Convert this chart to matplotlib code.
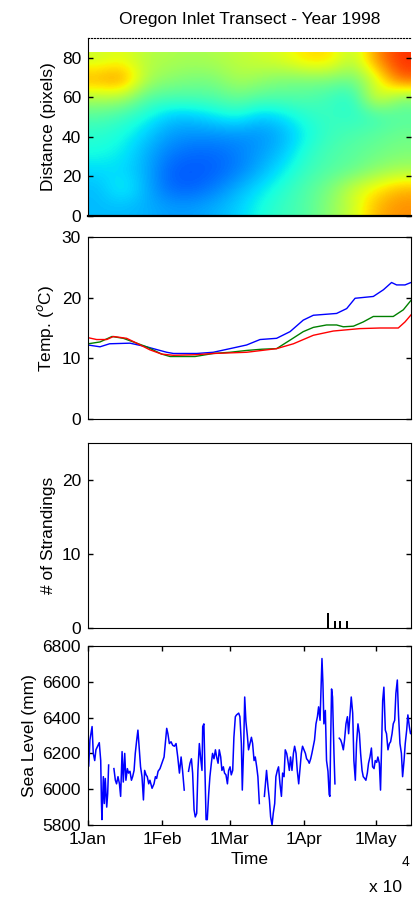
import numpy as np
import matplotlib
matplotlib.use('Agg')
import matplotlib.pyplot as plt

plt.rcParams['font.family'] = ['Liberation Sans Narrow', 'Liberation Sans', 'DejaVu Sans']
plt.rcParams['font.size'] = 12.5

# x axis: days since 1 Jan 1998
xmax = 134.6
month_days = [0, 31, 59, 90, 120]
month_labels = ['1Jan', '1Feb', '1Mar', '1Apr', '1May']

# transect image (rows from top = far distance, to bottom = 0)
transect = np.array([
    [0.60, 0.63, 0.57, 0.56, 0.55, 0.56, 0.58, 0.60, 0.62, 0.68, 0.68, 0.56, 0.76, 0.86],
    [0.74, 0.78, 0.56, 0.52, 0.50, 0.50, 0.56, 0.53, 0.50, 0.50, 0.50, 0.48, 0.60, 0.82],
    [0.56, 0.56, 0.45, 0.44, 0.44, 0.45, 0.48, 0.45, 0.45, 0.45, 0.42, 0.38, 0.65, 0.50],
    [0.45, 0.42, 0.38, 0.32, 0.32, 0.35, 0.38, 0.32, 0.35, 0.40, 0.42, 0.40, 0.42, 0.45],
    [0.40, 0.38, 0.33, 0.28, 0.27, 0.27, 0.27, 0.27, 0.30, 0.37, 0.42, 0.44, 0.46, 0.48],
    [0.38, 0.36, 0.30, 0.25, 0.23, 0.23, 0.25, 0.28, 0.32, 0.40, 0.44, 0.46, 0.48, 0.50],
    [0.34, 0.34, 0.30, 0.22, 0.21, 0.22, 0.25, 0.30, 0.36, 0.42, 0.45, 0.47, 0.52, 0.55],
    [0.31, 0.38, 0.30, 0.23, 0.22, 0.25, 0.30, 0.35, 0.40, 0.45, 0.50, 0.60, 0.66, 0.72],
    [0.31, 0.31, 0.30, 0.28, 0.28, 0.30, 0.33, 0.38, 0.42, 0.45, 0.52, 0.60, 0.72, 0.76],
])
transect_top = 82.5

# temperatures
t_blue_day = [0, 5, 9, 17.5, 24.4, 32.8, 35.6, 45.3, 52.2, 59.2, 66.1, 71.7, 78.6, 84.2, 89.7,
              93.9, 103.6, 107.8, 111.3, 118.9, 123.1, 126.5, 128.6, 132.1, 134.6]
t_blue = [12.2, 11.9, 12.4, 12.5, 11.9, 11.0, 10.8, 10.8, 11.0, 11.6, 12.2, 13.1, 13.3, 14.4, 16.3,
          17.1, 17.4, 18.2, 19.9, 20.2, 21.3, 22.5, 22.1, 22.1, 22.5]
t_green_day = [0.1, 5, 10, 14.7, 18.9, 24.4, 30.7, 34.2, 44.6, 52.2, 59.2, 66.1, 72.4, 78.6, 84.2,
               89.7, 93.9, 99.4, 103.6, 106.4, 110.6, 114.7, 118.9, 127.2, 131.4, 134.9]
t_green = [12.4, 12.7, 13.6, 13.3, 12.7, 11.9, 10.7, 10.3, 10.3, 10.8, 11.0, 11.3, 11.5, 11.6, 13.0,
           14.4, 15.1, 15.5, 15.5, 15.2, 15.3, 16.0, 16.9, 16.9, 18.0, 19.7]
t_red_day = [0.1, 3.6, 7.8, 10.6, 16.1, 20.3, 25.8, 30.7, 35.6, 45.3, 52.2, 59.2, 66.1, 72.4, 78.6,
             85.6, 93.9, 102.2, 113.3, 121.7, 129.3, 132.1, 134.9]
t_red = [13.4, 13.1, 13.1, 13.6, 13.3, 12.5, 11.4, 10.7, 10.5, 10.6, 10.8, 10.9, 11.0, 11.3, 11.6,
         12.4, 13.8, 14.5, 14.9, 15.0, 15.0, 16.0, 17.3]

# strandings
strand_day = [100, 103, 105, 108]
strand_n = [2, 1, 1, 1]

# sea level (nan = gap in record)
sl_day = [0.3, 0.8, 1.7, 2.2, 2.8, 3.3, 4.0, 4.7, 5.3, 5.6, 5.8, 6.4, 6.8, 7.2, 7.8, 8.2, 8.6,
          9.5,
          10.8, 11.4, 11.9, 12.5, 13.1, 13.6, 14.2, 14.7, 15.3, 15.8, 16.4, 16.9, 17.5, 18.1, 18.6,
          19.2, 19.7, 20.3, 20.8, 21.4, 21.9, 22.5, 23.1, 23.6, 24.2, 24.7, 25.3, 25.8, 26.7, 27.5,
          28.1, 28.6, 29.2, 30.0, 30.8, 31.7, 32.2, 32.8, 33.3, 33.9, 34.6, 35.3, 36.0, 36.7, 37.4,
          38.1, 38.8, 39.4, 40.1,
          41.0,
          41.9, 42.5, 43.1, 43.6, 44.2, 44.7, 45.3, 45.8, 46.4, 46.9, 47.5, 47.8, 48.3, 48.8, 49.2,
          49.7, 50.3, 50.8, 51.4, 51.9, 52.5, 53.1, 53.6, 54.2, 54.7, 55.3, 55.8, 56.4, 56.9, 57.5,
          58.1, 58.6, 59.2, 59.7, 60.3, 60.8, 61.4, 61.9, 62.8, 63.3, 63.9, 64.3, 64.9, 65.3, 65.8,
          66.4, 66.9, 67.5, 68.1, 68.6, 69.2, 69.7, 70.3, 70.8, 71.4,
          72.5,
          73.5, 73.9, 74.4, 75.0, 75.6, 76.1, 76.7, 77.2, 77.8, 78.3, 78.9, 79.4, 80.0, 80.6, 81.1,
          81.7, 82.2, 82.8, 83.3, 83.9, 84.4, 85.0, 85.6, 86.1, 86.7, 87.2, 87.8, 88.3, 88.9, 89.4,
          90.0, 90.6, 91.1, 91.7, 92.2, 92.8, 93.3, 93.9, 94.4, 95.0, 95.6, 96.1, 96.7, 97.2, 97.5,
          97.9, 98.3, 98.9, 99.4, 100.0, 100.5, 100.8, 101.1, 101.5, 101.9, 102.5, 102.9,
          103.8,
          104.7, 105.3, 105.8, 106.4, 106.9, 107.5, 108.1, 108.6, 109.2, 109.7, 110.3, 110.8, 111.4,
          111.9, 112.5, 113.1, 113.6, 114.2, 114.7, 115.3, 115.8, 116.4, 116.9, 117.5, 118.1, 118.6,
          119.2, 119.7, 120.3, 120.8, 121.4, 121.9, 122.2, 122.8, 123.3, 123.9, 124.4, 125.0, 125.6,
          126.1, 126.7, 127.2, 127.8, 128.3, 128.9, 129.4, 130.0, 130.6, 131.1, 131.7, 132.2, 132.8,
          133.3, 133.9, 134.4, 135.0]
sl_mm = [6130, 6275, 6350, 6200, 6160, 6220, 6240, 6260, 6160, 5930, 5830, 6070, 5920, 6060, 5900,
         5975, 6135,
         np.nan,
         6115, 6050, 6030, 6070, 6030, 5960, 6210, 6040, 6200, 6050, 6115, 6090, 6100, 6050, 6070,
         6105, 6200, 6275, 6330, 6220, 6125, 6070, 5940, 6105, 6080, 6070, 6030, 6050, 6005, 6030,
         6070, 6060, 6100, 6115, 6145, 6180, 6255, 6340, 6310, 6255, 6265, 6245, 6240, 6255, 6180,
         6090, 6180, 6105, 5995,
         np.nan,
         6100, 6145, 6170, 6090, 5885, 5845, 5865, 6105, 6255, 6180, 6105, 6350, 6365, 6070, 5830,
         5830, 5975, 6070, 6145, 6200, 6170, 6220, 6180, 6145, 6220, 6180, 6105, 6125, 6090, 6080,
         6030, 6105, 6125, 6080, 6105, 6290, 6405, 6415, 6425, 6405, 6255, 5995, 6255, 6515, 6380,
         6300, 6220, 6255, 6290, 6255, 6160, 6180, 6125, 6070, 5920,
         np.nan,
         5960, 6025, 6105, 6015, 5940, 5845, 5800, 5865, 5920, 6070, 6105, 6125, 6030, 5960, 6090,
         6070, 6220, 6200, 6160, 6105, 6180, 6105, 6200, 6240, 6200, 6105, 6030, 6105, 6200, 6240,
         6220, 6200, 6170, 6160, 6145, 6170, 6200, 6240, 6275, 6365, 6405, 6460, 6385, 6590, 6730,
         6590, 6365, 6440, 6160, 6100, 5970, 5960, 6255, 6560, 6515, 6200, 6030,
         np.nan,
         6285, 6275, 6255, 6220, 6275, 6365, 6405, 6310, 6425, 6515, 6425, 6160, 6050,
         6255, 6365, 6310, 6200, 6105, 6070, 6060, 6050, 6090, 6145, 6180, 6230, 6125,
         6115, 6160, 6150, 6180, 6145, 5995, 6160, 6495, 6570, 6330, 6310, 6220, 6255,
         6265, 6310, 6365, 6385, 6535, 6610, 6415, 6255, 6200, 6070, 6160, 6255, 6330,
         6415, 6350, 6310, 6330]

fig = plt.figure(figsize=(4.14, 9.01), dpi=100)
W, H = 414.0, 901.0
left = 88 / W
width = 323 / W


def make_ax(top_px, bot_px):
    return fig.add_axes([left, 1 - bot_px / H, width, (bot_px - top_px) / H])


# panel 1 - transect
ax1 = make_ax(38, 216)
ax1.imshow(transect, cmap='jet', vmin=0, vmax=1, aspect='auto', interpolation='bicubic',
           extent=[0, xmax, 0, transect_top], origin='upper')
ax1.set_xlim(0, xmax)
ax1.set_ylim(0, 90)
ax1.set_yticks([0, 20, 40, 60, 80])
ax1.set_xticks([])
ax1.spines['top'].set_linestyle(':')
ax1.spines['right'].set_visible(False)
ax1.spines['bottom'].set_linewidth(1.6)
ax1.set_ylabel('Distance (pixels)')
ax1.set_title('Oregon Inlet Transect - Year 1998', fontsize=12.5, pad=10)

# panel 2 - temperature
ax2 = make_ax(237, 419)
ax2.plot(t_blue_day, t_blue, color='#0000ff', lw=1.0)
ax2.plot(t_green_day, t_green, color='#008000', lw=1.0)
ax2.plot(t_red_day, t_red, color='#ff0000', lw=1.0)
ax2.set_xlim(0, xmax)
ax2.set_ylim(0, 30)
ax2.set_yticks([0, 10, 20, 30])
ax2.set_xticks([])
ax2.set_ylabel('Temp. ($^o$C)')

# panel 3 - strandings
ax3 = make_ax(443, 628)
ax3.bar(strand_day, strand_n, width=0.8, color='black')
ax3.set_xlim(0, xmax)
ax3.set_ylim(0, 25)
ax3.set_yticks([0, 10, 20])
ax3.set_xticks([])
ax3.set_ylabel('# of Strandings')

# panel 4 - sea level
ax4 = make_ax(646, 825)
ax4.plot(sl_day, sl_mm, color='#0000ff', lw=1.1)
ax4.set_xlim(0, xmax)
ax4.set_ylim(5800, 6800)
ax4.set_yticks(np.arange(5800, 6801, 200))
ax4.set_xticks(month_days)
ax4.set_xticklabels(month_labels)
ax4.set_ylabel('Sea Level (mm)')
ax4.set_xlabel('Time', labelpad=4)

for ax in (ax1, ax2, ax3, ax4):
    ax.tick_params(direction='in', top=True, right=True, length=3.5, width=1, pad=5)

fig.text(386 / W, 1 - 888 / H, 'x 10', ha='center', va='center', fontsize=12.5)
fig.text(406 / W, 1 - 862 / H, '4', ha='center', va='center', fontsize=10)

fig.savefig('out.png', dpi=100)
